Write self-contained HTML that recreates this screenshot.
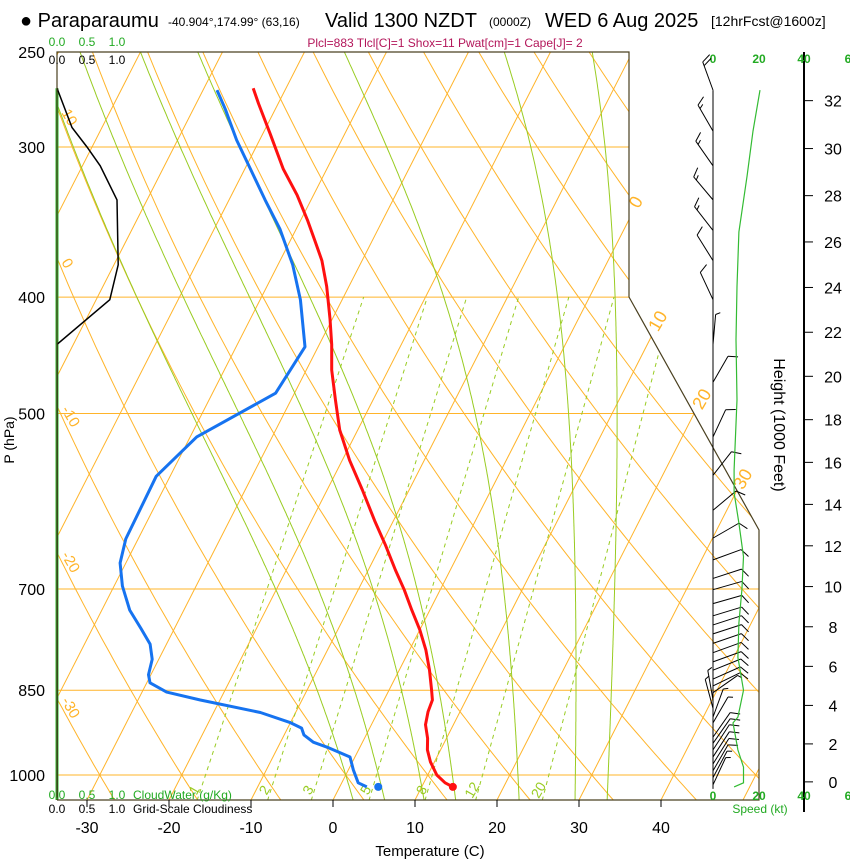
<!DOCTYPE html>
<html><head><meta charset="utf-8">
<style>
html,body{margin:0;padding:0;background:#fff;}
svg{display:block;font-family:"Liberation Sans",Arial,sans-serif;}
</style></head>
<body>
<svg id="chart" width="850" height="860" viewBox="0 0 850 860" xmlns="http://www.w3.org/2000/svg">
<defs>
<clipPath id="plotClip"><polygon points="57,52 629,52 629,297 759,530 759,800 57,800"/></clipPath>
</defs>
<rect x="0" y="0" width="850" height="860" fill="#fff"/>
<g id="title">
  <text x="20" y="27" font-size="20" fill="#000">● Paraparaumu</text>
  <text x="168" y="26" font-size="12" fill="#000">-40.904°,174.99° (63,16)</text>
  <text x="325" y="27" font-size="20" fill="#000">Valid 1300 NZDT</text>
  <text x="489" y="26" font-size="12" fill="#000">(0000Z)</text>
  <text x="545" y="27" font-size="20" fill="#000">WED 6 Aug 2025</text>
  <text x="711" y="26" font-size="14" fill="#000">[12hrFcst@1600z]</text>
  <text x="445" y="47" font-size="12" fill="#b3165a" text-anchor="middle">Plcl=883 Tlcl[C]=1 Shox=11 Pwat[cm]=1 Cape[J]= 2</text>
</g>
<g id="grid" clip-path="url(#plotClip)"></g>
<g id="gridlabels"></g>
<g id="series"></g>
<g id="frame">
  <polyline points="57,800 57,52 629,52 629,297 759,530 759,800 57,800" fill="none" stroke="#4a4020" stroke-width="1.2"/>
</g>
<g id="axes"></g>
<g id="wind"></g>
</svg>
<script>
// ---- data ----
const tempP = [1023,1015,1000,975,953,932,908,886,866,850,818,787,757,729,701,675,643,614,579,547,516,487,460,438,417,392,373,359,345,329,313,293,276,268];
const tempC = [13.8,12.6,11.1,9.5,8.4,7.7,6.6,6.1,5.9,5.2,3.7,2.0,0.0,-2.2,-4.4,-6.7,-9.5,-12.3,-15.7,-19.1,-22.2,-24.6,-26.9,-28.5,-30.3,-32.7,-34.9,-37.0,-39.2,-42.0,-45.3,-49.0,-52.4,-54.0];
const dewP = [1023,1015,990,966,949,939,926,914,904,887,866,853,838,825,801,778,755,729,696,666,636,564,523,481,440,402,376,351,332,313,296,279,269];
const dewC = [3.3,2.0,0.6,-0.6,-3.8,-6.0,-7.6,-8.3,-10.1,-14.3,-22.4,-27.0,-29.6,-30.3,-30.8,-32.0,-34.1,-36.6,-39.0,-40.7,-41.5,-41.7,-39.2,-32.3,-31.6,-35.1,-38.2,-42.0,-45.6,-49.3,-52.8,-56.1,-58.3];
const sfcTemp = [1023, 13.8];
const sfcDew = [1023, 4.7];
const cloudP = [268,289,300,311,332,376,402,438,1049];
const cloudFrac = [0,0.25,0.5,0.72,1.0,1.02,0.88,0,0];
const cloudWaterP = [268,1049];
const cloudWaterVal = [0,0];
const windP = [269,291,311,332,352,373,402,438,471,523,563,602,635,662,686,701,720,737,750,763,777,791,805,818,832,843,854,866,880,895,905,930,941,953,966,979,992,1005,1019];
const windDir = [340,330,325,320,322,328,335,5,30,25,38,50,60,70,72,74,74,73,72,72,71,70,70,68,66,64,55,350,345,20,30,35,35,33,33,32,30,28,25];
const windSpd = [20,18,18,16,15,13,12,5,10,10,10,10,10,12,12,12,12,12,12,12,12,12,12,12,12,10,8,5,5,5,8,10,10,12,12,10,10,8,8];
const speedP = [269,291,317,353,392,434,487,557,582,617,658,701,747,798,850,895,905,953,985,1015,1023];
const speedKt = [20,17,14.5,11,10.2,9.8,10.2,9.0,9.0,11,13,12.3,11,10.6,13,10.6,8.5,10.6,13,13,9];
const tempTicks = [-30,-20,-10,0,10,20,30,40];
const pressTicks = [250,300,400,500,700,850,1000];
const isobarLines = [300,400,500,700,850,1000];
const isotherms = [-100,-90,-80,-70,-60,-50,-40,-30,-20,-10,0,10,20,30,40,50];
const dryAdiabats = [-60,-50,-40,-30,-20,-10,0,10,20,30,40,50,60,70,80,90,100,110,120,130,140,150];
const moistAdiabats = [0,4,9,13,21,28,32];
const mixRatios = [1,2,3,5,8,12,20];
const heightTicks = [0,2,4,6,8,10,12,14,16,18,20,22,24,26,28,30,32];
const isoLabels = [0,10,20,30];
const thetaLabels = [10,0,-10,-20,-30];

// ---- scales ----
const NS='http://www.w3.org/2000/svg';
function yP(p){return 775+521.6*Math.log(p/1000);}
function xT(T,p){return 333+8.2*T+0.51*(800-yP(p));}
function mk(tag,attrs,parent){const e=document.createElementNS(NS,tag);for(const k in attrs)e.setAttribute(k,attrs[k]);parent.appendChild(e);return e;}
function ptsStr(arr){return arr.map(a=>a[0].toFixed(1)+','+a[1].toFixed(1)).join(' ');}
const grid=document.getElementById('grid');
const glab=document.getElementById('gridlabels');
const series=document.getElementById('series');
const axes=document.getElementById('axes');
const wind=document.getElementById('wind');
const ORANGE='#ffb42a', GREEN='#99cc22';

isobarLines.forEach(p=>{
  const l=mk('line',{x1:57,x2:760,y1:yP(p),y2:yP(p),stroke:ORANGE,'stroke-width':1},grid);
  
  
});
isotherms.forEach(T=>{
  const l=mk('line',{x1:xT(T,1060),y1:yP(1060),x2:xT(T,240),y2:yP(240),stroke:ORANGE,'stroke-width':1},grid);
  
  
});
dryAdiabats.forEach(th=>{
  const pts=[];const K=th+273.15;
  for(let p=1060;p>=240;p-=10){pts.push([xT(K*Math.pow(p/1000,0.2857)-273.15,p),yP(p)]);}
  const l=mk('polyline',{points:ptsStr(pts),fill:'none',stroke:ORANGE,'stroke-width':1},grid);
  
  
});
function esat(Tc){return 6.112*Math.exp(17.67*Tc/(Tc+243.5));}
function dTdp(T,p){const Tc=T-273.15;const es=esat(Tc);const rs=0.622*es/(p-es);
  const Rd=287,cp=1005,L=2.5e6;return (Rd*T+L*rs)/(p*(cp+L*L*rs*0.622/(Rd*T*T)));}
moistAdiabats.forEach(tw=>{
  let up=[],dn=[];let T=tw+273.15;
  for(let p=1000;p>=240;p-=2){up.push([xT(T-273.15,p),yP(p)]);const k1=dTdp(T,p);const k2=dTdp(T-k1,p-1);T-=(k1+k2);}
  T=tw+273.15;
  for(let p=1000;p<=1060;p+=2){dn.push([xT(T-273.15,p),yP(p)]);const k1=dTdp(T,p);const k2=dTdp(T+k1,p+1);T+=(k1+k2);}
  const pts=dn.reverse().concat(up);
  const l=mk('polyline',{points:ptsStr(pts),fill:'none',stroke:GREEN,'stroke-width':1},grid);
  
  
});
function tdFromW(w,p){const e=w*p/(622+w);const a=Math.log(e/6.112);return 243.5*a/(17.67-a);}
mixRatios.forEach(w=>{
  const l=mk('line',{x1:xT(tdFromW(w,1050),1050),y1:yP(1050),x2:xT(tdFromW(w,400),400),y2:yP(400),stroke:GREEN,'stroke-width':1,'stroke-dasharray':'4,4'},grid);
  
  
  const px=xT(tdFromW(w,1030),1030)-2, py=yP(1030)+2;
  const t=mk('text',{x:px,y:py,'font-size':14,fill:GREEN,transform:'rotate(-60 '+px+' '+py+')','text-anchor':'middle'},glab);
  t.textContent=w;
  
  
});
const isoPos={0:[641,205],10:[663,324],20:[707,402],30:[748,482]};
isoLabels.forEach(T=>{
  const [px,py]=isoPos[T];
  const t=mk('text',{x:px,y:py,'font-size':18,fill:ORANGE,transform:'rotate(-60 '+px+' '+py+')','text-anchor':'middle'},glab);
  t.textContent=T;
  
  
});
thetaLabels.forEach(th=>{
  const K=th+273.15;let best=1000;
  for(let p=250;p<=1050;p+=1){if(xT(K*Math.pow(p/1000,0.2857)-273.15,p)>=60){best=p;break;}}
  const px=61, py=yP(best)-4;
  const t=mk('text',{x:px,y:py,'font-size':15,fill:ORANGE,transform:'rotate(60 '+px+' '+py+')'},glab);
  t.textContent=th;
  
  
});

{const pts=cloudWaterP.map((p,i)=>[57+cloudWaterVal[i]*60,yP(p)]);
 const l=mk('polyline',{points:ptsStr(pts),fill:'none',stroke:'#2db82d','stroke-width':3},series);
 
 }
{const pts=cloudP.map((p,i)=>[57+cloudFrac[i]*60,yP(p)]);
 const l=mk('polyline',{points:ptsStr(pts),fill:'none',stroke:'#000','stroke-width':1.5,'clip-path':'url(#plotClip)'},series);
 
 }
{const pts=dewP.map((p,i)=>[xT(dewC[i],p),yP(p)]);
 const l=mk('polyline',{points:ptsStr(pts),fill:'none',stroke:'#1673f0','stroke-width':3,'stroke-linejoin':'round'},series);
 
 
 const c=mk('circle',{cx:xT(sfcDew[1],sfcDew[0]),cy:yP(sfcDew[0]),r:4,fill:'#1673f0'},series);
 
 }
{const pts=tempP.map((p,i)=>[xT(tempC[i],p),yP(p)]);
 const l=mk('polyline',{points:ptsStr(pts),fill:'none',stroke:'#ff1010','stroke-width':3,'stroke-linejoin':'round'},series);
 
 
 const c=mk('circle',{cx:xT(sfcTemp[1],sfcTemp[0]),cy:yP(sfcTemp[0]),r:4,fill:'#ff1010'},series);
 
 }

tempTicks.forEach(T=>{
  const x=333+8.2*T;
  const l=mk('line',{x1:x,x2:x,y1:800,y2:807,stroke:'#000','stroke-width':1},axes);
  
  
  const t=mk('text',{x:x,y:833,'font-size':16,'text-anchor':'middle',fill:'#000'},axes);
  t.textContent=T;
  
  
});
{const t=mk('text',{x:430,y:856,'font-size':15,'text-anchor':'middle',fill:'#000'},axes);
 t.textContent='Temperature (C)';
 
 }
pressTicks.forEach(p=>{
  const t=mk('text',{x:45,y:yP(p)+6,'font-size':16,'text-anchor':'end',fill:'#000'},axes);
  t.textContent=p;
  
  
});
{const t=mk('text',{x:0,y:0,'font-size':14,'text-anchor':'middle',fill:'#000',transform:'translate(14,440) rotate(-90)'},axes);
 t.textContent='P (hPa)';
 
 }
[['0.0',57],['0.5',87],['1.0',117]].forEach(([s,x])=>{
  [[46,'#22aa22','top-cloudwater'],[64,'#000','top-cloudiness'],[799,'#22aa22','bottom-cloudwater'],[813,'#000','bottom-cloudiness']].forEach(([y,c,n])=>{
    const t=mk('text',{x:x,y:y,'font-size':12,'text-anchor':'middle',fill:c},axes);
    t.textContent=s;
    
    
  });
});
{const t=mk('text',{x:133,y:799,'font-size':12,fill:'#22aa22'},axes);
 t.textContent='CloudWater (g/Kg)';
 
 
 const t2=mk('text',{x:133,y:813,'font-size':12,fill:'#000'},axes);
 t2.textContent='Grid-Scale Cloudiness';
 
 }

{const l=mk('line',{x1:804,x2:804,y1:52,y2:812,stroke:'#000','stroke-width':2},axes);
 
 }
heightTicks.forEach(h=>{
  const m=h*304.8;const p=1013.25*Math.pow(1-2.25577e-5*m,5.2559);const y=yP(p);
  const l=mk('line',{x1:804,x2:813,y1:y,y2:y,stroke:'#000','stroke-width':1},axes);
  
  
  const t=mk('text',{x:833,y:y+6,'font-size':16,'text-anchor':'middle',fill:'#000'},axes);
  t.textContent=h;
  
  
});
{const t=mk('text',{x:0,y:0,'font-size':16,'text-anchor':'middle',fill:'#000',transform:'translate(774,425) rotate(90)'},axes);
 t.textContent='Height (1000 Feet)';
 
 }
[['0',713],['20',759],['40',804],['6',848]].forEach(([s,x])=>{
  [63,800].forEach(y=>{
    const t=mk('text',{x:x,y:y,'font-size':12,'font-weight':'bold','text-anchor':'middle',fill:'#22aa22'},axes);
    t.textContent=s;
    
    
  });
});
{const t=mk('text',{x:760,y:813,'font-size':12,'text-anchor':'middle',fill:'#22aa22'},axes);
 t.textContent='Speed (kt)';
 
 }

{const l=mk('line',{x1:713,x2:713,y1:yP(windP[0]),y2:yP(windP[windP.length-1])+4,stroke:'#000','stroke-width':1},wind);
 
 }
windP.forEach((p,i)=>{
  const bx=713, by=yP(p);const a=windDir[i]*Math.PI/180;
  const ux=Math.sin(a), uy=-Math.cos(a);const tx=bx+30*ux, ty=by+30*uy;
  const px=-uy, py=ux;
  const g=mk('g',{},wind);
  
  
  mk('line',{x1:bx,y1:by,x2:tx,y2:ty,stroke:'#000','stroke-width':1},g);
  let s=windSpd[i];let off=0;
  while(s>=10){const sx=tx-off*ux, sy=ty-off*uy;
    mk('line',{x1:sx,y1:sy,x2:sx+10*(px*0.9+ux*0.45),y2:sy+10*(py*0.9+uy*0.45),stroke:'#000','stroke-width':1},g);
    s-=10;off+=4;}
  if(s>=5){const sx=tx-off*ux, sy=ty-off*uy;
    mk('line',{x1:sx,y1:sy,x2:sx+5*(px*0.9+ux*0.45),y2:sy+5*(py*0.9+uy*0.45),stroke:'#000','stroke-width':1},g);}
});
{const pts=speedP.map((p,i)=>[713+speedKt[i]*47/20,yP(p)]);
 const l=mk('polyline',{points:ptsStr(pts),fill:'none',stroke:'#33bb33','stroke-width':1.2},wind);
 
 }
</script>
</body></html>
